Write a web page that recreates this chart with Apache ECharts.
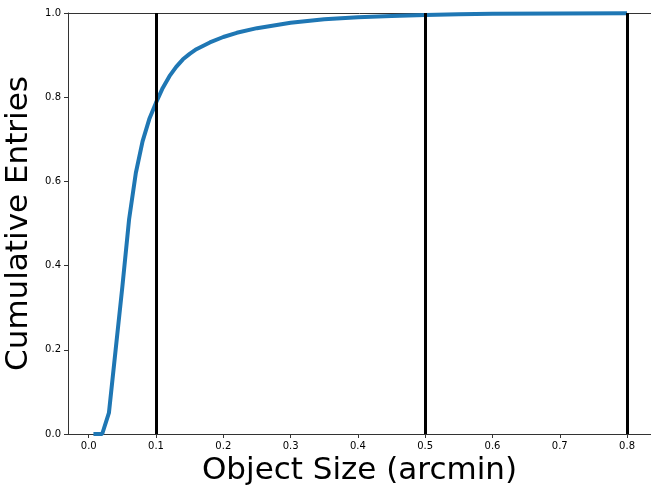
<!DOCTYPE html>
<html>
<head>
<meta charset="utf-8">
<script src="https://cdn.jsdelivr.net/npm/echarts@6/dist/echarts.min.js"></script>
<style>
  html, body { margin: 0; padding: 0; background: #fff; }
  #chart { width: 651px; height: 489px; }
</style>
</head>
<body>
<div id="chart"></div>
<script>
  // cumulative curve
  const sizes = [0.007, 0.02, 0.03, 0.04, 0.05, 0.06, 0.07, 0.08, 0.09, 0.10,
    0.11, 0.12, 0.13, 0.14, 0.15, 0.16, 0.18, 0.20, 0.22, 0.25,
    0.30, 0.35, 0.40, 0.45, 0.50, 0.55, 0.60, 0.70, 0.80];
  const cumulative = [0, 0, 0.05, 0.2, 0.35, 0.51, 0.62, 0.695, 0.748, 0.787,
    0.822, 0.85, 0.872, 0.89, 0.903, 0.914, 0.93, 0.943, 0.953, 0.964,
    0.977, 0.985, 0.99, 0.993, 0.995, 0.997, 0.998, 0.999, 0.9995];
  const cutLines = [0.1, 0.5, 0.8];
  const xTicks = [0, 0.1, 0.2, 0.3, 0.4, 0.5, 0.6, 0.7, 0.8];

  const font = "DejaVu Sans";
  const xMin = -0.0308;
  const xMax = 0.8356;

  const chart = echarts.init(document.getElementById("chart"), null, { renderer: "canvas" });
  chart.setOption({
    animation: false,
    grid: {
      left: 68,
      right: 0,
      top: 13,
      bottom: 55,
      outerBoundsMode: "none",
      containLabel: false,
    },
    xAxis: [
      {
        type: "value",
        min: xMin,
        max: xMax,
        name: "Object Size (arcmin)",
        nameLocation: "middle",
        nameGap: 21,
        nameTextStyle: { fontFamily: font, fontSize: 31, color: "#000", verticalAlign: "top" },
        axisLine: { show: true, onZero: false, lineStyle: { color: "#333", width: 1 } },
        axisTick: { show: true, length: 4, customValues: xTicks, lineStyle: { color: "#333" } },
        axisLabel: {
          customValues: xTicks,
          fontFamily: font,
          fontSize: 10,
          color: "#000",
          margin: 7,
          formatter: (v) => v.toFixed(1),
        },
        splitLine: { show: false },
      },
      {
        // top spine only
        type: "value",
        position: "top",
        min: xMin,
        max: xMax,
        axisLine: { show: true, onZero: false, lineStyle: { color: "#333", width: 1 } },
        axisTick: { show: false },
        axisLabel: { show: false },
        splitLine: { show: false },
      },
    ],
    yAxis: {
      type: "value",
      min: 0,
      max: 1,
      interval: 0.2,
      name: "Cumulative Entries",
      nameLocation: "middle",
      nameGap: 28,
      nameTextStyle: { fontFamily: font, fontSize: 31, color: "#000" },
      axisLine: { show: true, onZero: false, lineStyle: { color: "#333", width: 1 } },
      axisTick: { show: true, length: 4, lineStyle: { color: "#333" } },
      axisLabel: {
        fontFamily: font,
        fontSize: 10,
        color: "#000",
        margin: 7,
        formatter: (v) => v.toFixed(1),
      },
      splitLine: { show: false },
    },
    series: [
      {
        type: "line",
        data: [],
        z: 1,
        markLine: {
          silent: true,
          symbol: "none",
          label: { show: false },
          lineStyle: { color: "#000", width: 3, type: "solid" },
          data: cutLines.map((v) => ({ xAxis: v })),
        },
      },
      {
        type: "line",
        z: 3,
        symbol: "none",
        lineStyle: { color: "#1f77b4", width: 4 },
        data: sizes.map((x, i) => [x, cumulative[i]]),
      },
    ],
  });
</script>
</body>
</html>
